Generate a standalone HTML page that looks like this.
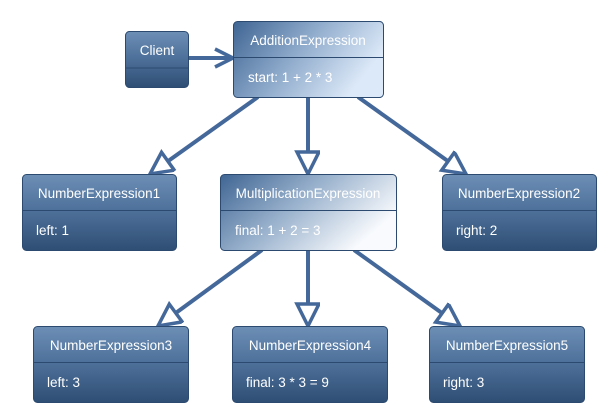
<!DOCTYPE html>
<html><head><meta charset="utf-8"><style>
html,body{margin:0;padding:0;background:#fff;}
svg{display:block;font-family:"Liberation Sans",Arial,sans-serif;}
</style></head><body>
<svg width="607" height="416" viewBox="0 0 607 416" xmlns="http://www.w3.org/2000/svg">
<defs>
<linearGradient id="g" x1="0" y1="0" x2="0" y2="1">
<stop offset="0" stop-color="#6d8fb6"/><stop offset="0.45" stop-color="#4f729c"/><stop offset="1" stop-color="#2f4e74"/>
</linearGradient>
<linearGradient id="ga" x1="0" y1="0" x2="1" y2="0.4">
<stop offset="0" stop-color="#3f6593"/><stop offset="0.5" stop-color="#8eaacb"/><stop offset="1" stop-color="#dce9f8"/>
</linearGradient>
<linearGradient id="gm" x1="0" y1="0" x2="1" y2="0.5">
<stop offset="0" stop-color="#3f6593"/><stop offset="0.5" stop-color="#9ab2cd"/><stop offset="1" stop-color="#f8fafd"/>
</linearGradient>
<marker id="tri" markerUnits="userSpaceOnUse" markerWidth="30" markerHeight="30" refX="24" refY="12" orient="auto">
<path d="M2,1 L24,12 L2,23 Z" fill="#fff" stroke="#44689a" stroke-width="3.5" stroke-linejoin="miter"/>
</marker>
<marker id="open" markerUnits="userSpaceOnUse" markerWidth="30" markerHeight="30" refX="22" refY="12" orient="auto">
<path d="M4,3 L22,12 L4,21" fill="none" stroke="#44689a" stroke-width="3.5"/>
</marker>
</defs>
<g stroke="#44689a" stroke-width="4" fill="none">
<line x1="188" y1="58" x2="233" y2="58" marker-end="url(#open)"/>
<line x1="258" y1="97" x2="150" y2="174" marker-end="url(#tri)"/>
<line x1="308" y1="97" x2="308" y2="174" marker-end="url(#tri)"/>
<line x1="358" y1="97" x2="466" y2="174" marker-end="url(#tri)"/>
<line x1="262" y1="250" x2="158" y2="326" marker-end="url(#tri)"/>
<line x1="308" y1="250" x2="308" y2="326" marker-end="url(#tri)"/>
<line x1="354" y1="250" x2="460" y2="326" marker-end="url(#tri)"/>
</g>
<g stroke="#2c4a70" stroke-width="1">
<rect x="125.5" y="31.5" width="63" height="56" rx="4" fill="url(#g)"/>
<line x1="126" y1="68" x2="188" y2="68"/>
<rect x="233.5" y="21.5" width="150" height="76" rx="4" fill="url(#ga)"/>
<line x1="234" y1="57.5" x2="383" y2="57.5"/>
<rect x="22.5" y="174.5" width="154" height="76" rx="4" fill="url(#g)"/>
<line x1="23" y1="210.5" x2="176" y2="210.5"/>
<rect x="220.5" y="174.5" width="176" height="76" rx="4" fill="url(#gm)"/>
<line x1="221" y1="210.5" x2="396" y2="210.5"/>
<rect x="442.5" y="174.5" width="154" height="76" rx="4" fill="url(#g)"/>
<line x1="443" y1="210.5" x2="596" y2="210.5"/>
<rect x="33.5" y="326.5" width="155" height="76" rx="4" fill="url(#g)"/>
<line x1="34" y1="362.5" x2="188" y2="362.5"/>
<rect x="232.5" y="326.5" width="155" height="76" rx="4" fill="url(#g)"/>
<line x1="233" y1="362.5" x2="387" y2="362.5"/>
<rect x="429.5" y="326.5" width="155" height="76" rx="4" fill="url(#g)"/>
<line x1="430" y1="362.5" x2="584" y2="362.5"/>
</g>
<g fill="#fff" font-size="13.5">
<text x="157" y="55" text-anchor="middle">Client</text>
<text x="308" y="45" text-anchor="middle">AdditionExpression</text>
<text x="248" y="82">start: 1 + 2 * 3</text>
<text x="99" y="198" text-anchor="middle">NumberExpression1</text>
<text x="36" y="235">left: 1</text>
<text x="308" y="198" text-anchor="middle">MultiplicationExpression</text>
<text x="235" y="235">final: 1 + 2 = 3</text>
<text x="519" y="198" text-anchor="middle">NumberExpression2</text>
<text x="456" y="235">right: 2</text>
<text x="111" y="350" text-anchor="middle">NumberExpression3</text>
<text x="47" y="387">left: 3</text>
<text x="310" y="350" text-anchor="middle">NumberExpression4</text>
<text x="246" y="387">final: 3 * 3 = 9</text>
<text x="507" y="350" text-anchor="middle">NumberExpression5</text>
<text x="443" y="387">right: 3</text>
</g>
</svg>
</body></html>
